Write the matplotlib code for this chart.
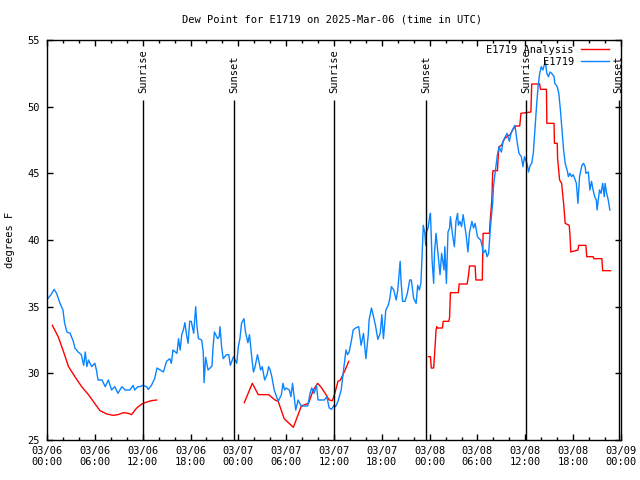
import matplotlib

matplotlib.use("Agg")
import matplotlib.pyplot as plt
import numpy as np
from matplotlib.ticker import FixedLocator, MultipleLocator

# hours since 2025-03-06 00:00 UTC
obs_hours = [
    0.1, 0.5, 0.9, 1.2, 1.6, 2.0, 2.2, 2.5, 2.9, 3.3, 3.5, 3.9, 4.3, 4.6, 4.8, 5.0, 5.2, 5.6,
    6.0, 6.2, 6.4, 6.9, 7.3, 7.7, 8.1, 8.5, 8.9, 9.4, 9.8, 10.4, 10.8, 11.0, 11.4, 11.7, 12.0,
    12.5, 12.7, 13.1, 13.5, 13.8, 14.2, 14.6, 15.0, 15.4, 15.6, 15.8, 16.3, 16.5, 16.7, 16.9,
    17.1, 17.3, 17.5, 17.7, 17.9, 18.1, 18.4, 18.65, 18.8, 19.0, 19.4, 19.6, 19.7, 19.9, 20.2,
    20.7, 20.8, 21.0, 21.4, 21.6, 21.7, 21.9, 22.1, 22.5, 22.8, 23.0, 23.4, 23.6, 23.8, 24.0,
    24.2, 24.4, 24.7, 24.9, 25.2, 25.4, 25.7, 25.9, 26.1, 26.4, 26.8, 27.0, 27.3, 27.6, 27.8,
    28.0, 28.2, 28.5, 28.8, 29.0, 29.4, 29.6, 29.8, 30.0, 30.4, 30.6, 30.8, 31.2, 31.5, 31.7,
    31.9, 32.7, 33.0, 33.2, 33.5, 33.8, 34.0, 34.8, 35.1, 35.4, 35.7, 36.0, 36.2, 36.5, 36.9,
    37.1, 37.3, 37.5, 37.7, 37.9, 38.2, 38.4, 38.7, 39.1, 39.4, 39.7, 40.0, 40.3, 40.4, 40.7,
    40.9, 41.2, 41.5, 41.8, 42.0, 42.2, 42.5, 42.8, 43.0, 43.2, 43.5, 43.8, 44.0, 44.3, 44.4,
    44.6, 44.9, 45.2, 45.5, 45.7, 46.0, 46.3, 46.5, 46.7, 46.9, 47.0, 47.2, 47.4, 47.5, 47.6,
    47.8, 48.0, 48.1, 48.3, 48.5, 48.6, 48.8, 49.0, 49.3, 49.5, 49.8, 49.9, 50.1, 50.3, 50.5,
    50.6, 50.9, 51.1, 51.3, 51.5, 51.6, 51.8, 52.0, 52.2, 52.4, 52.6, 52.8, 53.0, 53.3, 53.5,
    53.7, 54.0, 54.2, 54.4, 54.6, 54.7, 55.0, 55.2, 55.4, 55.6, 55.7, 55.9, 56.0, 56.2, 56.4,
    56.5, 56.7, 57.0, 57.2, 57.5, 57.7, 58.0, 58.2, 58.5, 58.7, 59.0, 59.2, 59.5, 59.7, 59.9,
    60.2, 60.4, 60.6, 60.8, 61.0, 61.2, 61.4, 61.6, 61.8, 62.0, 62.2, 62.5, 62.7, 62.9, 63.1,
    63.3, 63.6, 63.7, 64.0, 64.2, 64.4, 64.6, 64.8, 65.0, 65.3, 65.4, 65.6, 65.8, 66.0, 66.2,
    66.4, 66.6, 66.8, 67.1, 67.3, 67.5, 67.6, 67.9, 68.1, 68.3, 68.5, 68.7, 68.9, 69.0, 69.3,
    69.5, 69.7, 69.9, 70.0, 70.2, 70.4, 70.6,
]
obs_dewpoint = [
    35.6, 35.9, 36.3, 36.0, 35.3, 34.75, 33.8, 33.1, 33.0, 32.4, 31.9, 31.6, 31.4, 30.6, 31.6, 30.5, 31.0, 30.5,
    30.75, 30.25, 29.5, 29.5, 29.0, 29.5, 28.75, 29.0, 28.5, 29.0, 28.75, 28.75, 29.1, 28.75, 29.0, 29.0, 29.1,
    29.0, 28.8, 29.1, 29.6, 30.4, 30.25, 30.1, 30.9, 31.1, 30.75, 31.75, 31.5, 32.6, 31.75, 32.9,
    33.25, 33.8, 32.9, 32.25, 33.9, 33.9, 33.0, 35.0, 33.6, 32.6, 32.5, 31.6, 29.3, 31.2, 30.25,
    30.55, 31.75, 33.1, 32.6, 32.75, 33.5, 32.0, 31.1, 31.4, 31.4, 30.6, 31.25, 31.0, 30.75, 32.0,
    32.6, 33.75, 34.1, 33.1, 32.3, 32.9, 31.1, 30.1, 30.5, 31.4, 30.25, 30.5, 29.5, 29.9, 30.5,
    30.25, 29.75, 28.75, 28.25, 27.9, 28.4, 29.25, 28.75, 28.9, 28.75, 28.25, 29.25, 27.25, 28.0, 27.75,
    27.55, 27.55, 28.5, 28.9, 28.5, 29.1, 28.0, 28.0, 28.25, 27.4, 27.3, 27.6, 27.5, 27.9, 28.75,
    29.75, 30.75, 31.75, 31.4, 31.6, 32.5, 33.25, 33.4, 33.5, 32.1, 33.0, 31.1, 32.9, 34.0, 34.9,
    34.4, 33.6, 32.55, 33.0, 34.4, 32.6, 34.75, 35.1, 35.6, 36.5, 36.25, 35.5, 36.25, 38.4, 37.0,
    35.4, 35.4, 36.0, 37.0, 37.0, 35.6, 35.25, 36.6, 36.25, 36.75, 38.1, 41.1, 40.5, 39.6, 40.6,
    40.9, 41.75, 42.0, 38.5, 36.75, 39.0, 40.5, 39.25, 37.4, 39.0, 37.75, 39.5, 36.75, 40.6, 40.9,
    41.75, 40.25, 39.5, 41.4, 42.0, 41.1, 41.4, 41.0, 41.9, 41.1, 40.25, 39.1, 40.6, 41.4, 40.9,
    41.25, 40.25, 40.1, 40.0, 39.5, 39.0, 39.25, 38.75, 39.0, 40.75, 41.5, 42.75, 44.0, 45.0, 45.9,
    46.4, 47.0, 46.6, 47.4, 47.75, 48.0, 47.4, 48.0, 48.4, 48.6, 47.25, 46.5, 46.25, 45.5, 46.25,
    45.75, 45.1, 45.6, 45.75, 46.5, 48.25, 50.0, 51.5, 52.5, 53.0, 52.75, 53.4, 52.5, 52.25, 52.6,
    52.5, 52.25, 51.75, 51.5, 51.0, 49.75, 48.25, 46.75, 45.75, 45.1, 44.75, 45.0, 44.75, 44.9, 44.6,
    44.25, 42.75, 44.75, 45.6, 45.75, 45.5, 45.0, 45.1, 43.75, 44.4, 43.75, 43.25, 43.0, 42.25, 43.75,
    43.5, 44.25, 43.25, 44.25, 43.5, 43.0, 42.25,
]

# analysis series, NaN marks a gap
ana_hours = [
    0.67, 1.4, 2.0, 2.7, 3.5, 4.35, 5.2, 6.4, 6.65, 7.5, 8.3, 8.9, 9.6, 10.2, 10.6, 11.25, 11.9,
    12.5, 13.1, 13.75, 19.0,
    24.75, 25.75, 26.5, 27.8, 28.6, 29.0, 29.75, 30.9, 31.5, 31.9, 32.8, 33.4, 33.95, 34.4, 35.0,
    35.4, 35.8, 36.1, 36.5, 36.8, 37.4, 37.85, 42.0,
    47.85, 48.1, 48.2, 48.5, 48.65, 48.8, 48.9, 48.95, 49.6, 49.7, 50.4, 50.5, 50.6, 51.6, 51.7,
    52.7, 52.85, 53.0, 53.7, 53.8, 54.6, 54.65, 54.7, 55.5, 55.6, 55.8, 55.9, 55.95, 56.5, 56.6,
    56.7, 57.0, 57.4, 57.8, 58.1, 58.4, 58.8, 59.3, 59.45, 60.7, 60.8, 61.8, 61.9, 62.65, 62.7,
    63.6, 63.65, 64.0, 64.05, 64.3, 64.55, 64.8, 65.0, 65.5, 65.6, 65.7, 66.6, 66.7, 67.6, 67.7,
    68.5, 68.6, 69.6, 69.7, 70.7,
]
ana_dewpoint = [
    33.6, 32.75, 31.75, 30.5, 29.75, 29.0, 28.4, 27.4, 27.2, 26.95, 26.85, 26.9, 27.05, 27.0, 26.9, 27.4, 27.7,
    27.85, 27.95, 28.0, np.nan,
    27.8, 29.25, 28.4, 28.4, 28.0, 27.9, 26.6, 25.95, 26.9, 27.55, 27.75, 28.75, 29.25, 28.95, 28.4,
    28.0, 27.95, 28.5, 29.4, 29.5, 30.25, 30.9, np.nan,
    31.25, 31.25, 30.4, 30.4, 31.75, 33.25, 33.5, 33.4, 33.4, 33.9, 33.9, 34.2, 36.05, 36.05, 36.7,
    36.7, 37.25, 38.05, 38.05, 37.0, 37.0, 38.75, 40.5, 40.5, 41.5, 43.0, 45.0, 45.2, 45.2, 46.25,
    47.0, 47.1, 47.6, 47.8, 47.9, 48.25, 48.55, 48.55, 49.5, 49.6, 51.7, 51.7, 51.3, 51.3, 48.75,
    48.75, 47.25, 47.25, 46.1, 44.5, 44.25, 42.75, 41.25, 41.1, 40.4, 39.1, 39.25, 39.6, 39.6, 38.75,
    38.75, 38.6, 38.6, 37.7, 37.7,
]

sun_hours = [12.08, 23.5, 36.05, 47.6, 60.1, 71.7]
sun_labels = ["Sunrise", "Sunset", "Sunrise", "Sunset", "Sunrise", "Sunset"]

tick_hours = list(range(0, 73, 6))
tick_labels = [
    "03/06\n00:00", "03/06\n06:00", "03/06\n12:00", "03/06\n18:00",
    "03/07\n00:00", "03/07\n06:00", "03/07\n12:00", "03/07\n18:00",
    "03/08\n00:00", "03/08\n06:00", "03/08\n12:00", "03/08\n18:00",
    "03/09\n00:00",
]

FONT = "DejaVu Sans Mono"
FS = 7.5
plt.rcParams["font.family"] = FONT
plt.rcParams["font.size"] = FS

fig = plt.figure(figsize=(6.4, 4.8), dpi=100)
ax = fig.add_axes([47 / 640, 40 / 480, 574 / 640, 400 / 480])

ax.plot(ana_hours, ana_dewpoint, color="#ff0000", lw=1.0, label="E1719 Analysis")
ax.plot(obs_hours, obs_dewpoint, color="#0a84ff", lw=1.0, label="E1719")

ax.vlines(sun_hours, 25, 50.5, color="black", lw=1.0)
for h, lab in zip(sun_hours, sun_labels):
    ax.text(h, 51.0, lab, rotation=90, ha="center", va="bottom", fontsize=FS)

ax.set_xlim(0, 72)
ax.set_ylim(25, 55)
ax.xaxis.set_major_locator(FixedLocator(tick_hours))
ax.set_xticklabels(tick_labels)
ax.xaxis.set_minor_locator(MultipleLocator(2))
ax.yaxis.set_major_locator(MultipleLocator(5))
ax.tick_params(which="both", direction="in", top=True, right=True, width=1.0)
ax.tick_params(which="major", length=4.5)
ax.tick_params(which="minor", length=2.5)
ax.tick_params(axis="x", which="major", pad=4)
ax.tick_params(axis="y", which="major", pad=5)
for sp in ax.spines.values():
    sp.set_linewidth(1.0)

ax.set_ylabel("degrees F")
ax.yaxis.set_label_coords(-0.055, 0.5)

fig.text(0.519, 1 - 19 / 480, "Dew Point for E1719 on 2025-Mar-06 (time in UTC)",
         ha="center", va="center", fontsize=FS)

ax.legend(loc="upper right", bbox_to_anchor=(0.979, 0.9875), markerfirst=False,
          frameon=False, borderpad=0, borderaxespad=0, handlelength=2.7,
          handletextpad=0.67, labelspacing=0.15, fontsize=FS)

fig.savefig("out.png", dpi=100)
